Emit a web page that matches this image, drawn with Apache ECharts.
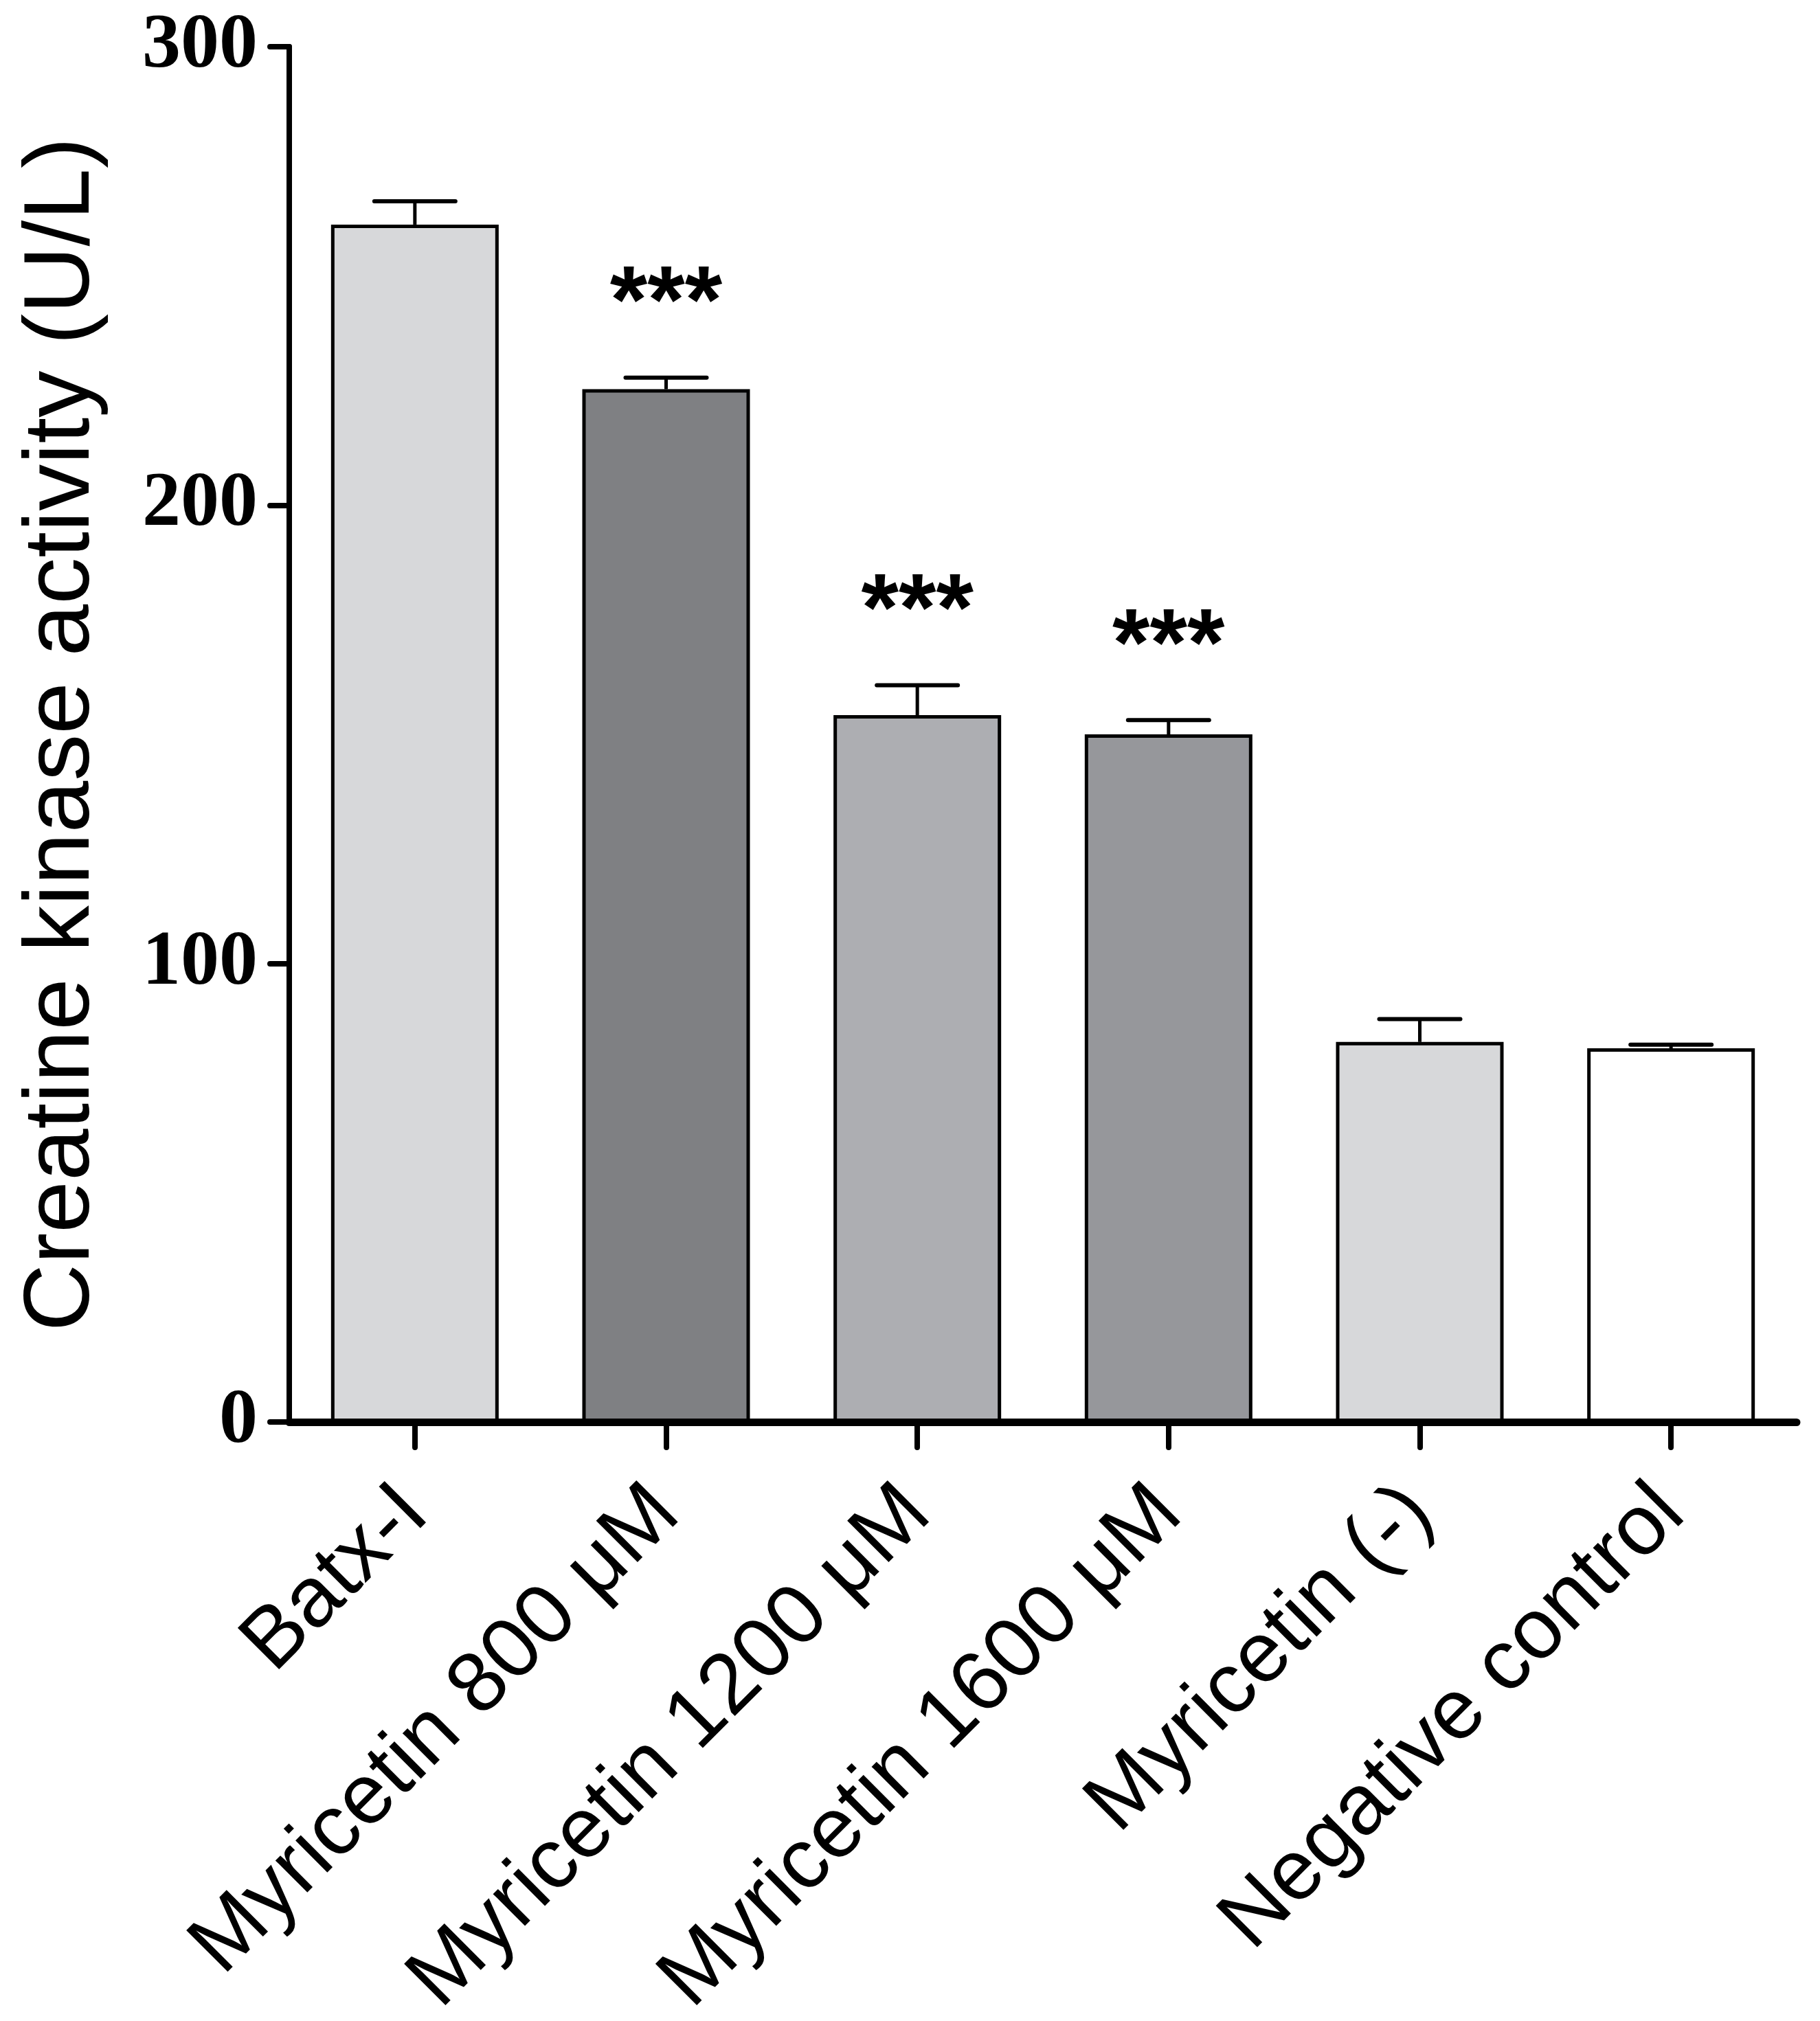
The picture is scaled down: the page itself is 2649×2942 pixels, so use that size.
<!DOCTYPE html>
<html>
<head>
<meta charset="utf-8">
<script src="https://cdn.jsdelivr.net/npm/echarts@6/dist/echarts.min.js"></script>
<style>
html,body{margin:0;padding:0;background:#fff;}
#chart{width:2649px;height:2942px;}
</style>
</head>
<body>
<div id="chart"></div>
<script>
const categories = ['Batx-I', 'Myricetin 800 \u03BCM', 'Myricetin 1200 \u03BCM', 'Myricetin 1600 \u03BCM', 'Myricetin (-)', 'Negative control'];
const means = [261.2, 225.3, 154.2, 150.0, 82.9, 81.5];
const errors = [5.1, 2.5, 6.5, 3.1, 5.0, 0.8];
const significance = ['', '***', '***', '***', '', ''];
const barColors = ['#d7d8da', '#7f8083', '#adaeb2', '#96979b', '#d7d8da', '#ffffff'];
const yTicks = [0, 100, 200, 300];

const chart = echarts.init(document.getElementById('chart'), null, {renderer: 'canvas'});

const option = {
  animation: false,
  backgroundColor: '#ffffff',
  grid: {left: 421, right: 34, top: 68, bottom: 872, containLabel: false, outerBoundsMode: 'none'},
  xAxis: {
    type: 'category',
    data: categories,
    boundaryGap: true,
    axisLine: {show: true, lineStyle: {color: '#000', width: 11, cap: 'round'}},
    axisTick: {show: true, alignWithLabel: true, length: 37, lineStyle: {color: '#000', width: 8, cap: 'round'}},
    axisLabel: {
      rotate: 45,
      interval: 0,
      margin: 114,
      color: '#000',
      fontFamily: '"Liberation Sans", Arial, sans-serif',
      fontSize: 124
    },
    splitLine: {show: false}
  },
  yAxis: {
    type: 'value',
    min: yTicks[0],
    max: yTicks[yTicks.length - 1],
    interval: 100,
    name: 'Creatine kinase activity (U/L)',
    nameLocation: 'middle',
    nameRotate: 90,
    nameGap: 262,
    nameTextStyle: {
      color: '#000',
      fontFamily: '"Liberation Sans", Arial, sans-serif',
      fontSize: 136
    },
    axisLine: {show: true, lineStyle: {color: '#000', width: 8, cap: 'round'}},
    axisTick: {show: true, length: 28, lineStyle: {color: '#000', width: 8, cap: 'round'}},
    axisLabel: {
      margin: 46,
      color: '#000',
      fontFamily: '"Liberation Serif", "Times New Roman", serif',
      fontWeight: 'bold',
      fontSize: 112
    },
    splitLine: {show: false}
  },
  series: [
    {
      type: 'bar',
      barWidth: 244,
      data: means.map((v, i) => ({
        value: v,
        itemStyle: {color: barColors[i], borderColor: '#000', borderWidth: 5}
      })),
      z: 2
    },
    {
      type: 'custom',
      z: 3,
      data: categories.map((c, i) => [i, means[i], means[i] + errors[i], significance[i]]),
      renderItem: function (params, api) {
        const i = api.value(0);
        const pBase = api.coord([i, api.value(1)]);
        const pTop = api.coord([i, api.value(2)]);
        const halfCap = 59;
        const children = [
          {type: 'line', shape: {x1: pBase[0], y1: pBase[1], x2: pTop[0], y2: pTop[1]},
           style: {stroke: '#000', lineWidth: 5}},
          {type: 'line', shape: {x1: pTop[0] - halfCap, y1: pTop[1], x2: pTop[0] + halfCap, y2: pTop[1]},
           style: {stroke: '#000', lineWidth: 6, lineCap: 'round'}}
        ];
        const sig = significance[params.dataIndex];
        if (sig) {
          children.push({
            type: 'text',
            style: {
              text: sig, x: pTop[0], y: pTop[1] - 104,
              align: 'center', verticalAlign: 'middle',
              fill: '#000', fontFamily: '"Liberation Sans", Arial, sans-serif',
              fontWeight: 'bold', fontSize: 140
            }
          });
        }
        return {type: 'group', children: children};
      }
    }
  ]
};
chart.setOption(option);
</script>
</body>
</html>
